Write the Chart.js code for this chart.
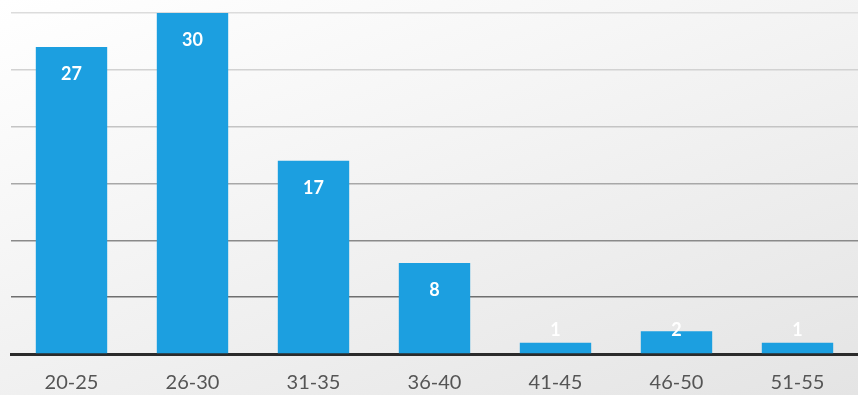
<!DOCTYPE html>
<html>
<head>
<meta charset="utf-8">
<script src="https://cdn.jsdelivr.net/npm/chart.js@4/dist/chart.umd.min.js"></script>
<style>
  html, body { margin: 0; padding: 0; }
  body {
    width: 858px; height: 395px; overflow: hidden;
    background: linear-gradient(160deg, #ffffff 0%, #f6f6f6 35%, #ebebeb 75%, #e4e4e4 100%);
  }
  #wrap { position: relative; width: 858px; height: 395px; }
</style>
</head>
<body>
<div id="wrap"><canvas id="c" width="858" height="395"></canvas></div>
<script>
// Age groups and how many people fall into each
const categories = ['20-25', '26-30', '31-35', '36-40', '41-45', '46-50', '51-55'];
const counts = [27, 30, 17, 8, 1, 2, 1];
const yTicks = [0, 5, 10, 15, 20, 25, 30];

const BAR_BLUE = '#1c9fe0';

// Gridlines fade from darker near the base to lighter near the top
const gridShades = {0: '#2b2b2b', 5: '#6f6f6f', 10: '#8a8a8a', 15: '#a8a8a8', 20: '#c4c4c4', 25: '#d2d2d2', 30: '#dcdcdc'};

// Value labels drawn inside the top of each bar, held above the base when the bar is short
const barValueLabels = {
  id: 'barValueLabels',
  afterDatasetsDraw(chart) {
    const { ctx } = chart;
    const meta = chart.getDatasetMeta(0);
    const base = chart.scales.y.getPixelForValue(0);
    ctx.save();
    ctx.fillStyle = '#ffffff';
    ctx.font = 'bold 18px Lato, "Open Sans", sans-serif';
    ctx.textAlign = 'center';
    ctx.textBaseline = 'middle';
    meta.data.forEach((bar, i) => {
      const y = Math.min(bar.y + 27, base - 24);
      ctx.fillText(String(counts[i]), bar.x, y);
    });
    ctx.restore();
  }
};

new Chart(document.getElementById('c'), {
  type: 'bar',
  data: {
    labels: categories,
    datasets: [{
      data: counts,
      backgroundColor: BAR_BLUE,
      borderWidth: 0,
      categoryPercentage: 1.0,
      barPercentage: 0.59
    }]
  },
  options: {
    responsive: false,
    animation: false,
    layout: { padding: { left: 11, right: 0, top: 13, bottom: 0 } },
    plugins: {
      legend: { display: false },
      tooltip: { enabled: false }
    },
    scales: {
      x: {
        afterFit(scale) { scale.height = 41; },
        grid: { display: false, drawTicks: false },
        border: { display: true, color: '#2b2b2b', width: 3 },
        ticks: {
          color: '#555555',
          padding: 17,
          font: { family: 'Lato, "Open Sans", sans-serif', size: 20 }
        }
      },
      y: {
        min: 0,
        max: 30,
        afterBuildTicks(scale) {
          scale.ticks = yTicks.map(v => ({ value: v }));
        },
        grid: {
          drawTicks: false,
          color: ctx => gridShades[ctx.tick.value] || '#bbbbbb',
          lineWidth: 1.5
        },
        border: { display: false },
        ticks: { display: false }
      }
    }
  },
  plugins: [barValueLabels]
});
</script>
</body>
</html>
